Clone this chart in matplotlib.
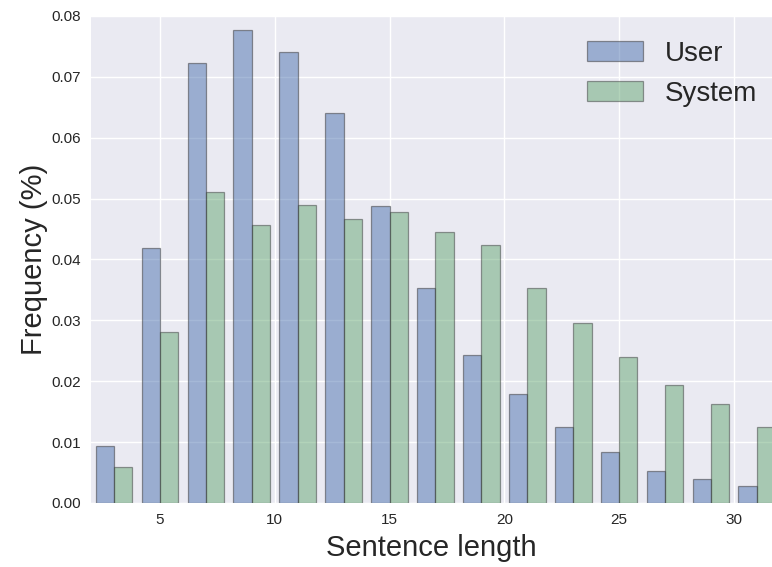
import numpy as np
import matplotlib
matplotlib.use("Agg")
import matplotlib.pyplot as plt

# histogram bins of sentence length (width 2)
bin_edges = np.arange(2, 34, 2)
user_freq = [0.0093, 0.0419, 0.0723, 0.0777, 0.0740, 0.0640, 0.0488, 0.0353,
             0.0243, 0.0179, 0.0125, 0.0083, 0.0052, 0.0039, 0.0028]
system_freq = [0.0059, 0.0280, 0.0510, 0.0456, 0.0489, 0.0467, 0.0478, 0.0445,
               0.0423, 0.0353, 0.0296, 0.0240, 0.0194, 0.0163, 0.0125]

plt.rcParams['font.family'] = ['Liberation Sans', 'DejaVu Sans']

fig = plt.figure(figsize=(7.72, 5.67), dpi=100)
ax = fig.add_axes([0.118, 0.113, 0.882, 0.859])
ax.set_facecolor('#EAEAF2')
for sp in ax.spines.values():
    sp.set_visible(False)
ax.grid(True, color='white', linewidth=1.0)
ax.set_axisbelow(True)

left = bin_edges[:-1]
binw = np.diff(bin_edges)
w = 0.4 * binw
ax.bar(left + 0.1 * binw, user_freq, width=w, align='edge',
       color='#4C72B0', alpha=0.5, edgecolor='#333333', linewidth=0.9, label='User')
ax.bar(left + 0.5 * binw, system_freq, width=w, align='edge',
       color='#5FA46E', alpha=0.48, edgecolor='#333333', linewidth=0.9, label='System')

ax.set_xlim(2, 31.66)
ax.set_ylim(0, 0.08)
ax.set_xticks([5, 10, 15, 20, 25, 30])
ax.set_yticks(np.arange(0, 0.081, 0.01))
ax.yaxis.set_major_formatter(matplotlib.ticker.FormatStrFormatter('%.2f'))
ax.tick_params(axis='both', length=0, labelsize=11, colors='#262626', pad=7)

ax.set_xlabel('Sentence length', fontsize=21, color='#262626', labelpad=5)
ax.set_ylabel('Frequency (%)', fontsize=21, color='#262626', labelpad=3)

leg = ax.legend(loc='upper right', fontsize=20, frameon=False,
                bbox_to_anchor=(1.015, 1.0))
for t in leg.get_texts():
    t.set_color('#262626')

fig.savefig('out.png', dpi=100)
